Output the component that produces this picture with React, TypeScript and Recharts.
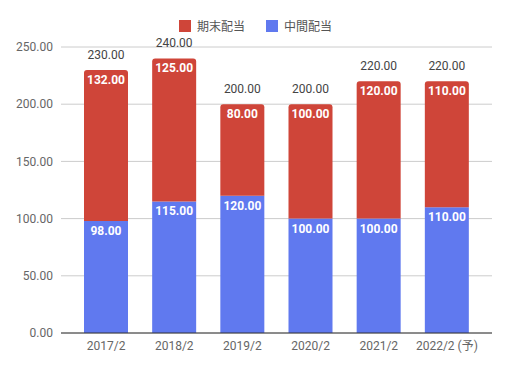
import { BarChart, Bar, XAxis, YAxis, CartesianGrid, LabelList } from 'recharts';

const categories = ['2017/2', '2018/2', '2019/2', '2020/2', '2021/2', '2022/2 (予)'];
const interim = [98, 115, 120, 100, 100, 110];   // 中間配当
const yearEnd = [132, 125, 80, 100, 120, 110];   // 期末配当
const yTicks = [0, 50, 100, 150, 200, 250];

const RED = '#cf4539';
const BLUE = '#6079ef';
const FONT = 'Roboto, "Noto Sans CJK JP", sans-serif';

const data = categories.map((name, i) => ({
  name,
  interim: interim[i],
  yearEnd: yearEnd[i],
  total: interim[i] + yearEnd[i],
}));

const fmt = (v: number) => Number(v).toFixed(2);

// white bold value just inside the top of a segment
const InnerLabel = (props: any) => {
  const { x, y, width, value } = props;
  return (
    <text x={x + width / 2} y={y + 14} textAnchor="middle" fill="#fff"
      fontSize={12} fontWeight="bold" fontFamily={FONT}>
      {fmt(value)}
    </text>
  );
};

// grey total above the stack
const TotalLabel = (props: any) => {
  const { x, y, width, value } = props;
  return (
    <text x={x + width / 2} y={y - 11} textAnchor="middle" fill="#444"
      fontSize={12} fontFamily={FONT}>
      {fmt(value)}
    </text>
  );
};

export default function App() {
  return (
    <div style={{ position: 'fixed', left: 0, top: 0, width: 510, height: 368, background: '#fff', fontFamily: FONT }}>
      {/* legend */}
      <div style={{ position: 'absolute', top: 17, left: 179, display: 'flex', alignItems: 'center', fontSize: 12, color: '#555' }}>
        <span style={{ width: 12, height: 12, background: RED, display: 'inline-block', marginRight: 6 }} />
        <span style={{ marginRight: 21 }}>期末配当</span>
        <span style={{ width: 12, height: 12, background: BLUE, display: 'inline-block', marginRight: 6 }} />
        <span>中間配当</span>
      </div>
      <BarChart width={510} height={368} data={data}
        margin={{ top: 47, right: 18, left: 6, bottom: 10 }}>
        <CartesianGrid vertical={false} stroke="#ccc" />
        <XAxis dataKey="name" tickLine={false} axisLine={{ stroke: '#333' }}
          padding={{ left: 11, right: 11 }} height={25}
          tick={{ fontSize: 12, fill: '#666', fontFamily: FONT }} />
        <YAxis domain={[0, 250]} ticks={yTicks} tickFormatter={fmt} width={55}
          tickLine={false} axisLine={false} interval={0}
          tick={{ fontSize: 12, fill: '#666', fontFamily: FONT }} />
        <Bar dataKey="interim" stackId="a" fill={BLUE} barSize={44} isAnimationActive={false}>
          <LabelList dataKey="interim" content={InnerLabel} />
        </Bar>
        <Bar dataKey="yearEnd" stackId="a" fill={RED} barSize={44} radius={[3, 3, 0, 0]} isAnimationActive={false}>
          <LabelList dataKey="yearEnd" content={InnerLabel} />
          <LabelList dataKey="total" content={TotalLabel} />
        </Bar>
      </BarChart>
    </div>
  );
}
